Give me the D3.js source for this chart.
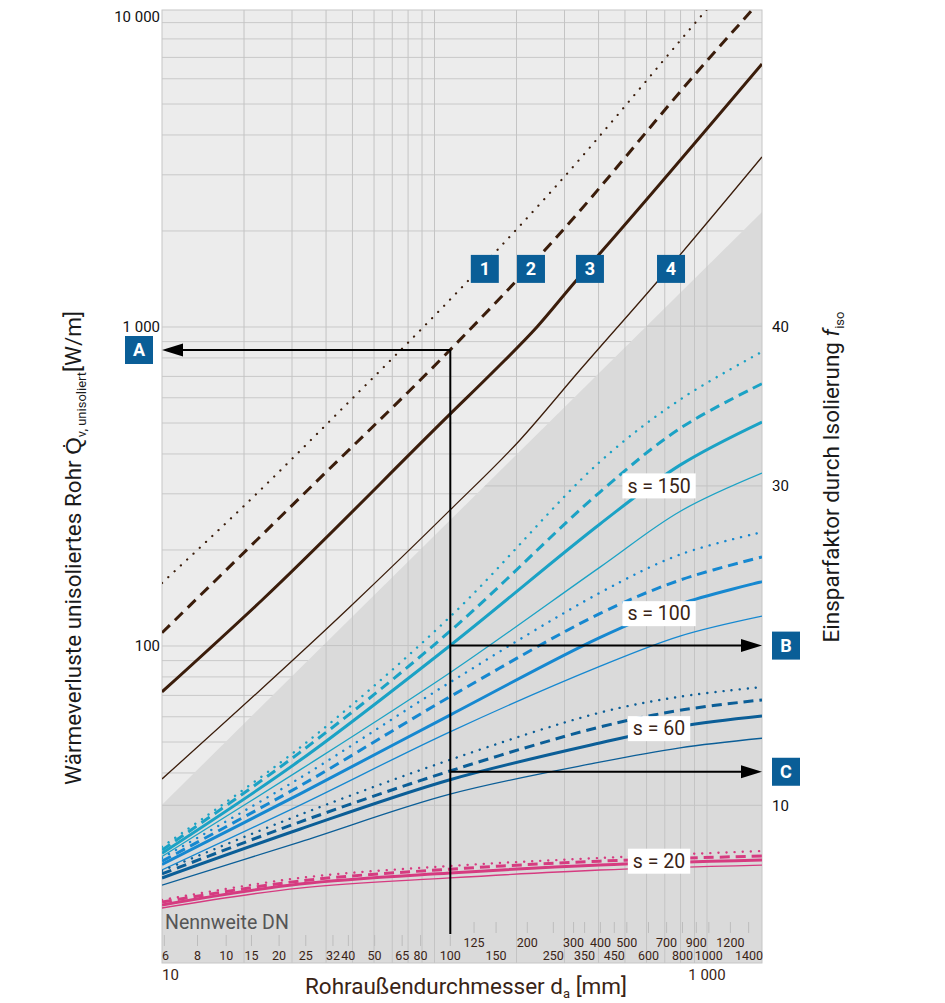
<!DOCTYPE html>
<html><head><meta charset="utf-8">
<script src="https://cdn.jsdelivr.net/npm/d3@7"></script>
<style>
body{margin:0;background:#fff;}
text{font-family:Roboto,"Liberation Sans",sans-serif;}
</style>
</head><body>
<svg id="c" width="945" height="1003"></svg>
<script>
// ---------- DATA ----------
// Heat loss of uninsulated pipe Q [W/m] vs outer diameter d [mm], lines 1..4
const q1Dotted = [[10,157.6],[21.6,293],[48.1,578],[106.5,1147],[265,2630],[959,9510],[1117,11070]];
const q2Dashed = [[10,110],[33.7,304],[114,847],[277,1888],[983,6722],[1439,9700],[1592,10700]];
const q3Thick  = [[10,71.8],[23.3,139.4],[114,533],[166.7,733],[237.7,1000],[327.8,1384],[415,1742],[1592,6676]];
const q4Thin   = [[10,38.3],[48.9,132.5],[114,266.6],[206,442.5],[342,733],[655.5,1384],[1592,3413]];

// Savings factor f_iso vs d [mm] for insulation thickness s
const f150Dotted = [[10,7.4],[32,13.6],[114,21.8],[404,31.5],[796,35.4],[1592,38.4]];
const f150Dashed = [[10,7.2],[32,13.3],[114,20.9],[404,29.6],[796,33.6],[1592,36.4]];
const f150Thick  = [[10,7.0],[32,12.8],[114,20.0],[404,27.6],[796,31.3],[1592,34.0]];
const f150Thin   = [[10,6.8],[32,12.2],[114,18.3],[404,24.9],[796,28.4],[1592,30.8]];

const f100Dotted = [[10,6.7],[32,11.7],[114,17.7],[404,23.3],[796,25.7],[1592,27.1]];
const f100Dashed = [[10,6.5],[32,11.2],[114,16.8],[404,22.0],[796,24.1],[1592,25.55]];
const f100Thick  = [[10,6.3],[32,10.7],[114,15.65],[404,20.5],[796,22.6],[1592,24.0]];
const f100Thin   = [[10,5.95],[32,10.0],[114,14.6],[404,18.7],[796,20.6],[1592,21.85]];

const f60Dotted = [[10,5.9],[32,9.4],[114,12.85],[404,15.8],[796,16.8],[1592,17.4]];
const f60Dashed = [[10,5.7],[32,8.95],[114,12.15],[404,14.9],[796,15.95],[1592,16.6]];
const f60Thick  = [[10,5.45],[32,8.5],[114,11.6],[404,13.9],[796,14.95],[1592,15.6]];
const f60Thin   = [[10,5.0],[32,7.7],[114,10.7],[404,12.7],[796,13.6],[1592,14.2]];

const f20Dotted = [[10,4.07],[32,5.45],[114,6.2],[404,6.7],[1592,7.14]];
const f20Dashed = [[10,3.94],[32,5.26],[114,6.0],[404,6.5],[1592,6.83]];
const f20Thick  = [[10,3.76],[32,5.07],[114,5.76],[404,6.26],[1592,6.57]];
const f20Thin   = [[10,3.57],[32,4.82],[114,5.45],[404,5.95],[1592,6.26]];

const sLabels = ["s = 150","s = 100","s = 60","s = 20"];
const sLabelD = [667,667,667,667];
const sLabelF = [30,22,14.8,6.5];

// boundary of the darker area (d, Q)
const darkEdge = [[10,31.8],[1592,2293]];

// tick labels
const qTicks = [10000,1000,100];
const qTickLabels = ["10 000","1 000","100"];
const fTicks = [40,30,10];
const dTicks = [10,1000];
const dTickLabels = ["10","1 000"];
const dnLabels = ["6","8","10","15","20","25","32","40","50","65","80","100","125","150","200","250","300","350","400","450","500","600","700","800","900","1000","1200","1400"];
const dnOD = [10.2,13.5,17.2,21.3,26.9,33.7,42.4,48.3,60.3,76.1,88.9,114.3,139.7,168.3,219.1,273,323.9,355.6,406.4,457,508,610,711,813,914,1016,1219,1422];
const dnUpperRow = ["125","200","300","400","500","700","900","1200"];

// numbered line labels 1..4 (d, Q)
const numLabels = ["1","2","3","4"];
const numD = [153,226,372,738];
const numQ = [1521,1521,1521,1521];

// worked example: DN100 -> A (Q), B (f), C (f)
const exD = 114.3, exQ = 847, exFB = 20, exFC = 12.1;

// ---------- CHART ----------
const svg = d3.select("#c");
const L=162,R=762,T=10,B=963;
const x  = d3.scaleLog().domain([10,1592]).range([L,R]);
const yQ = d3.scaleLog().domain([10,10000]).range([965,8]);
const yF = d3.scaleLinear().domain([0,60]).range([965,6.8]);

const brown="#3b1d0b", cyan="#1ba2c5", blue="#1688d0", dblue="#0b5e97", pink="#d63b80";
const boxBlue="#0a5e97", txtBrown="#3a2416";

const defs = svg.append("defs");
defs.append("clipPath").attr("id","plotClip").append("rect")
  .attr("x",L).attr("y",T).attr("width",R-L).attr("height",B-T);
const darkPts = [[x(darkEdge[0][0]),yQ(darkEdge[0][1])],[x(darkEdge[1][0]),yQ(darkEdge[1][1])],[R,B],[L,B]];
defs.append("clipPath").attr("id","darkClip").append("polygon").attr("points",darkPts.map(p=>p.join(",")).join(" "));

const g = svg.append("g");
g.append("rect").attr("x",L).attr("y",T).attr("width",R-L).attr("height",B-T).attr("fill","#ececec");

// log horizontal grid
const qGrid=[]; for(let e=1;e<=3;e++) for(let k=1;k<=9;k++) qGrid.push(k*Math.pow(10,e)); qGrid.push(10000);
g.selectAll(".hq").data(qGrid.filter(v=>yQ(v)>=T && yQ(v)<=B)).enter().append("line")
  .attr("x1",L).attr("x2",R).attr("y1",d=>yQ(d)).attr("y2",d=>yQ(d))
  .attr("stroke","#c9c9c9").attr("stroke-width",1);

// dark region
g.append("polygon").attr("points",darkPts.map(p=>p.join(",")).join(" ")).attr("fill","#dadada");

// linear f grid in dark region
g.append("g").attr("clip-path","url(#darkClip)").selectAll("line").data([10,20,30,40,50]).enter().append("line")
  .attr("x1",L).attr("x2",R).attr("y1",d=>yF(d)).attr("y2",d=>yF(d))
  .attr("stroke","#c3c3c3").attr("stroke-width",1);

// vertical grid
const dGrid=[]; for(let e=1;e<=2;e++) for(let k=(e===1?2:1);k<=9;k++) dGrid.push(k*Math.pow(10,e)); dGrid.push(1000);
g.selectAll(".vg").data(dGrid).enter().append("line")
  .attr("x1",d=>x(d)).attr("x2",d=>x(d)).attr("y1",T).attr("y2",B)
  .attr("stroke","#c4c4c4").attr("stroke-width",1);

g.append("rect").attr("x",L).attr("y",T).attr("width",R-L).attr("height",B-T)
  .attr("fill","none").attr("stroke","#c6c6c6").attr("stroke-width",1);

// curves
const styles = {
  dotted:{w:2.4,dash:"0.1 8",cap:"round"},
  dashed:{w:3,dash:"10 6",cap:"butt"},
  thick:{w:3,dash:null,cap:"butt"},
  thin:{w:1.3,dash:null,cap:"butt"}
};
const curves = g.append("g").attr("clip-path","url(#plotClip)");
const lineQ = d3.line().x(d=>x(d[0])).y(d=>yQ(d[1])).curve(d3.curveMonotoneX);
const lineF = d3.line().x(d=>x(d[0])).y(d=>yF(d[1])).curve(d3.curveCatmullRom.alpha(0.5));

const qSeries = [[q1Dotted,"dotted"],[q2Dashed,"dashed"],[q3Thick,"thick"],[q4Thin,"thin"]];
qSeries.forEach(([data,type])=>{
  const s=styles[type];
  curves.append("path").attr("d",lineQ(data)).attr("fill","none").attr("stroke",brown)
    .attr("stroke-width",type==="dotted"?2.2:s.w).attr("stroke-dasharray",type==="dotted"?"0.1 8.5":(type==="dashed"?"11 7":s.dash))
    .attr("stroke-linecap",s.cap);
});
const fSeries = [
  [f150Dotted,"dotted",cyan],[f150Dashed,"dashed",cyan],[f150Thick,"thick",cyan],[f150Thin,"thin",cyan],
  [f100Dotted,"dotted",blue],[f100Dashed,"dashed",blue],[f100Thick,"thick",blue],[f100Thin,"thin",blue],
  [f60Dotted,"dotted",dblue],[f60Dashed,"dashed",dblue],[f60Thick,"thick",dblue],[f60Thin,"thin",dblue],
  [f20Dotted,"dotted",pink],[f20Dashed,"dashed",pink],[f20Thick,"thick",pink],[f20Thin,"thin",pink]
];
fSeries.forEach(([data,type,col])=>{
  const s=styles[type];
  curves.append("path").attr("d",lineF(data)).attr("fill","none").attr("stroke",col)
    .attr("stroke-width",s.w).attr("stroke-dasharray",s.dash).attr("stroke-linecap",s.cap);
});

// s labels
sLabels.forEach((t,i)=>{
  const cx=x(sLabelD[i]), cy=yF(sLabelF[i]);
  const tg=g.append("g");
  const tx=tg.append("text").attr("x",cx).attr("y",cy).attr("dy","0.35em").attr("text-anchor","middle")
    .attr("font-size",19.5).attr("fill",txtBrown).text(t);
  const bb=tx.node().getBBox();
  tg.insert("rect","text").attr("x",bb.x-5).attr("y",cy-12.5).attr("width",bb.width+10).attr("height",25).attr("fill","#fff");
});

// DN row
const dnG = g.append("g");
dnOD.forEach((od,i)=>{
  const px=x(od), lab=dnLabels[i];
  const upper = dnUpperRow.includes(lab);
  const big = od>120;
  dnG.append("line").attr("x1",px).attr("x2",px).attr("y1",big?922:935).attr("y2",big?933:946)
    .attr("stroke","#bdbdbd").attr("stroke-width",1);
  let anchor="middle", tx=px;
  if(i===0){anchor="start"; tx=L;}
  if(i===dnLabels.length-1){anchor="end"; tx=R+1;}
  dnG.append("text").attr("x",tx).attr("y",upper?947:960).attr("text-anchor",anchor)
    .attr("font-size",12.5).attr("fill",txtBrown).text(lab);
});
g.append("text").attr("x",L+3).attr("y",929).attr("font-size",19.5).attr("fill","#555").text("Nennweite DN");

// example arrows
const ax=x(exD), ayA=yQ(exQ), ayB=yF(exFB), ayC=yF(exFC);
const ar=g.append("g").attr("stroke","#000").attr("stroke-width",2).attr("fill","none");
ar.append("line").attr("x1",ax).attr("x2",ax).attr("y1",ayA).attr("y2",934);
ar.append("line").attr("x1",ax).attr("x2",L+12).attr("y1",ayA).attr("y2",ayA);
ar.append("line").attr("x1",ax).attr("x2",R-12).attr("y1",ayB).attr("y2",ayB);
ar.append("line").attr("x1",ax).attr("x2",R-12).attr("y1",ayC).attr("y2",ayC);
const head=(tipX,y,dir)=>g.append("path").attr("d",`M${tipX},${y} L${tipX+dir*21},${y-6.5} L${tipX+dir*21},${y+6.5} Z`).attr("fill","#000");
head(L,ayA,1); head(R,ayB,-1); head(R,ayC,-1);

// boxes
const box=(cx,cy,t)=>{
  g.append("rect").attr("x",cx-14).attr("y",cy-14).attr("width",28).attr("height",28).attr("fill",boxBlue);
  g.append("text").attr("x",cx).attr("y",cy).attr("dy","0.36em").attr("text-anchor","middle")
    .attr("font-size",18).attr("font-weight","bold").attr("fill","#fff").text(t);
};
box(L-23,ayA,"A"); box(R+24,ayB,"B"); box(R+24,ayC,"C");
numLabels.forEach((t,i)=>box(x(numD[i]),yQ(numQ[i]),t));

// left axis labels
qTicks.forEach((v,i)=>{
  const yy = Math.max(yQ(v),17);
  g.append("text").attr("x",L-2).attr("y",yy).attr("dy","0.36em").attr("text-anchor","end")
    .attr("font-size",15).attr("fill","#111").text(qTickLabels[i]);
});
// right axis labels
fTicks.forEach(v=>{
  g.append("text").attr("x",R+10).attr("y",yF(v)).attr("dy","0.36em").attr("text-anchor","start")
    .attr("font-size",15).attr("fill","#111").text(v);
});
// bottom axis labels
dTicks.forEach((v,i)=>{
  g.append("text").attr("x",i===0?L:x(v)).attr("y",975).attr("dy","0.36em").attr("text-anchor",i===0?"start":"middle")
    .attr("font-size",15).attr("fill",txtBrown).text(dTickLabels[i]);
});

// titles
const lt=g.append("text").attr("transform","translate(81,548) rotate(-90)").attr("text-anchor","middle")
  .attr("font-size",22.5).attr("fill","#1a1a1a");
lt.append("tspan").text("Wärmeverluste unisoliertes Rohr  Q\u0307");
lt.append("tspan").attr("font-size",13).attr("dy",5).text("v, unisoliert");
lt.append("tspan").attr("dy",-5).text("[W/m]");

const rt=g.append("text").attr("transform","translate(839,477) rotate(-90)").attr("text-anchor","middle")
  .attr("font-size",22.5).attr("fill","#1a1a1a");
rt.append("tspan").text("Einsparfaktor durch Isolierung ");
rt.append("tspan").attr("font-style","italic").text("f");
rt.append("tspan").attr("font-size",13).attr("dy",5).text("iso");

const bt=g.append("text").attr("x",466).attr("y",994).attr("text-anchor","middle")
  .attr("font-size",22.5).attr("fill",txtBrown);
bt.append("tspan").text("Rohraußendurchmesser d");
bt.append("tspan").attr("font-size",13).attr("dy",4).text("a");
bt.append("tspan").attr("dy",-4).text(" [mm]");
</script>
</body></html>
